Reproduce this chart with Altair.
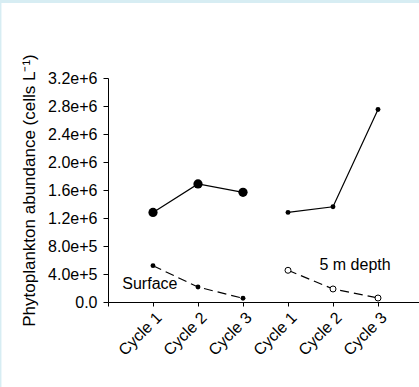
import altair as alt
import pandas as pd

positions = [1, 2, 3, 4, 5, 6]
cycles = ["Cycle 1", "Cycle 2", "Cycle 3", "Cycle 1", "Cycle 2", "Cycle 3"]

surf_upper = [1.28e6, 1.686e6, 1.567e6]
surf_lower = [5.19e5, 2.14e5, 5.3e4]
deep_upper = [1.28e6, 1.36e6, 2.75e6]
deep_lower = [4.53e5, 1.86e5, 5.7e4]

labels = ["Surface", "5 m depth"]
label_x = [0.93, 5.49]
label_y = [2.57e5, 5.29e5]

rows = []
for i in range(3):
    rows.append({"x": positions[i], "y": surf_upper[i], "series": "su"})
    rows.append({"x": positions[i], "y": surf_lower[i], "series": "sl"})
    rows.append({"x": positions[i + 3], "y": deep_upper[i], "series": "du"})
    rows.append({"x": positions[i + 3], "y": deep_lower[i], "series": "dl"})
df = pd.DataFrame(rows)
lab_df = pd.DataFrame({"x": label_x, "y": label_y, "t": labels})

PL, PT, PB = 108, 78, 85
W, H = 311, 224
xscale = alt.Scale(domain=[0, W / 45.0], nice=False, zero=False)
yscale = alt.Scale(domain=[0, 3.2e6], nice=False)

label_expr = "datum.value == 0 ? '' : (datum.value <= 3 ? 'Cycle ' + datum.value : 'Cycle ' + (datum.value - 3))"

FONT = "Liberation Sans"
xax = alt.Axis(values=[0, 1, 2, 3, 4, 5, 6], labelExpr=label_expr, labelAngle=-45,
               labelAlign="right", labelBaseline="top", labelPadding=3,
               tickSize=4, grid=False, title=None, labelFontSize=16, labelOverlap=False,
               labelFont=FONT, labelColor="#000", domainColor="#000",
               tickColor="#000")
yax = alt.Axis(values=[0, 4e5, 8e5, 1.2e6, 1.6e6, 2.0e6, 2.4e6, 2.8e6, 3.2e6],
               labelExpr="datum.value == 0 ? '0.0' : format(datum.value, '.1e')",
               tickSize=5, grid=False, labelFontSize=16, labelFont=FONT, labelOverlap=False,
               labelColor="#000", domainColor="#000", tickColor="#000", labelPadding=6,
               title="Phytoplankton abundance (cells L\u207b\u00b9)", titleFontSize=17,
               titleFont=FONT, titleFontWeight="normal", titleColor="#000",
               titlePadding=9)

base = alt.Chart(df).encode(
    x=alt.X("x:Q", scale=xscale, axis=xax),
    y=alt.Y("y:Q", scale=yscale, axis=yax),
)

solid = base.transform_filter("datum.series == 'su' || datum.series == 'du'").mark_line(
    color="#000", strokeWidth=1.2).encode(detail="series:N")
dashed = base.transform_filter("datum.series == 'sl' || datum.series == 'dl'").mark_line(
    color="#000", strokeWidth=1.2, strokeDash=[9, 5]).encode(detail="series:N")

pt_big = base.transform_filter("datum.series == 'su'").mark_point(
    filled=True, color="#000", size=85, opacity=1)
pt_small = base.transform_filter("datum.series == 'sl' || datum.series == 'du'").mark_point(
    filled=True, color="#000", size=24, opacity=1)
pt_open = base.transform_filter("datum.series == 'dl'").mark_point(
    filled=True, fill="#fff", stroke="#000", strokeWidth=1, size=36, opacity=1)

txt = alt.Chart(lab_df).mark_text(fontSize=16, font=FONT, color="#000").encode(
    x=alt.X("x:Q", scale=xscale, axis=xax), y=alt.Y("y:Q", scale=yscale, axis=yax), text="t:N")

one = pd.DataFrame({"a": [0]})
border_top = alt.Chart(one).mark_rule(color="#d7edf3", strokeWidth=3).encode(
    x=alt.value(-PL), x2=alt.value(W), y=alt.value(-PT + 1.5), y2=alt.value(-PT + 1.5))
border_left = alt.Chart(one).mark_rule(color="#d7edf3", strokeWidth=1.5).encode(
    x=alt.value(-PL + 0.7), x2=alt.value(-PL + 0.7), y=alt.value(-PT), y2=alt.value(H + PB))

chart = alt.layer(border_top, border_left, dashed, solid, pt_big, pt_small, pt_open, txt).properties(
    width=W, height=H, padding={"left": PL, "top": PT, "right": 0, "bottom": PB},
    autosize=alt.AutoSizeParams(type="none"), background="#ffffff"
).resolve_axis(x="shared", y="shared").configure_view(stroke=None)

chart.save("out.html", embed_options={"renderer": "svg", "actions": False})
